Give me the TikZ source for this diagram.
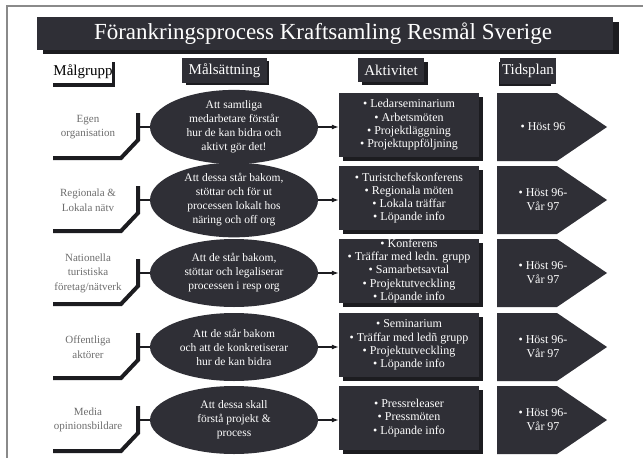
\documentclass[tikz,border=0pt]{standalone}
\usepackage{fontspec}
\setmainfont{Liberation Serif}
\usetikzlibrary{arrows.meta,shapes.geometric}
\definecolor{boxc}{HTML}{2F2F36}
\definecolor{shadc}{HTML}{1C1C20}
\definecolor{labc}{HTML}{6E6E6E}
\definecolor{framec}{HTML}{8A8A8A}
\newcommand\mrow[6]{%
  \node[lab] (l#2) at (88,#1) {#3};
  \draw[bracket] (138,#1-14) -- (138,#1+13) -- (121,#1+31) -- (53,#1+31);
  \node[goal] (g#2) at (234,#1) {#4};
  \coordinate (b#2) at (138,#1);
  \draw[stub] (b#2) -- (g#2.west);
  \fill[shadc] (343,#1-30) rectangle (483,#1+34);
  \node[act] (a#2) at (409,#1-2) {#5};
  \draw[conn] (g#2.east) -- (g#2.east -| a#2.west);
  \fill[boxc] (497,#1-34) -- (557,#1-34) -- (607,#1) -- (557,#1+34) -- (497,#1+34) -- cycle;
  \node[tidtxt] (t#2) at (543,#1) {#6};
}
\begin{document}
\begin{tikzpicture}[x=1pt,y=-1pt,
  dark/.style={fill=boxc,draw=none,text=white,inner sep=0pt},
  goal/.style={ellipse,fill=boxc,text=white,minimum width=168pt,minimum height=68pt,inner sep=0pt,align=center,font=\fontsize{11.5}{14}\selectfont},
  act/.style={dark,minimum width=140pt,minimum height=64pt,align=center,font=\fontsize{12}{13.3}\selectfont},
  lab/.style={text=labc,align=center,font=\fontsize{11}{14.5}\selectfont},
  tidtxt/.style={text=white,align=center,font=\fontsize{12}{14}\selectfont},
  hdr/.style={font=\fontsize{15}{17}\selectfont,inner sep=0pt},
  bracket/.style={draw=shadc,line width=4pt},
  stub/.style={draw=shadc,line width=2pt},
  conn/.style={draw=shadc,line width=1.2pt,-{Latex[length=7pt,width=5pt]}},
]
\useasboundingbox (0,0) rectangle (643,458);
\fill[white] (0,0) rectangle (643,458);
\draw[framec,line width=1.2pt] (7,458) -- (7,6) -- (643,6);
% title
\fill[shadc] (43,22) rectangle (619,54);
\fill[boxc] (37,17) rectangle (613,50);
\node[text=white,font=\fontsize{23}{25}\selectfont] (title) at (323,34) {Förankringsprocess Kraftsamling Resmål Sverige};
% headers
\node[hdr,minimum width=59pt,minimum height=24pt] (hm) at (83,72) {Målgrupp};
\fill[shadc] (112,62) rectangle (115,87);
\fill[shadc] (53,83) rectangle (115,87);
\fill[shadc] (186,61) rectangle (269,85);
\node[dark,hdr,minimum width=85pt,minimum height=25pt] (hs) at (224.5,70.5) {Målsättning};
\fill[shadc] (362,62) rectangle (428,85);
\node[dark,hdr,minimum width=66pt,minimum height=24pt] (ha) at (391,70) {Aktivitet};
\fill[shadc] (499,62) rectangle (551,86);
\node[dark,hdr,minimum width=56pt,minimum height=26pt] (ht) at (528,71) {Tidsplan};
% rows
\mrow{127}{1}{Egen\\organisation}{Att samtliga\\medarbetare förstår\\hur de kan bidra och\\aktivt gör det!}{• Ledarseminarium\\• Arbetsmöten\\• Projektläggning\\• Projektuppföljning}{• Höst 96}
\mrow{200}{2}{Regionala \&\\Lokala nätv}{Att dessa står bakom,\\stöttar och för ut\\processen lokalt hos\\näring och off org}{• Turistchefskonferens\\• Regionala möten\\• Lokala träffar\\• Löpande info}{• Höst 96-\\Vår 97}
\mrow{273}{3}{Nationella\\turistiska\\företag/nätverk}{Att de står bakom,\\stöttar och legaliserar\\processen i resp org}{• Konferens\\• Träffar med ledn. grupp\\• Samarbetsavtal\\• Projektutveckling\\• Löpande info}{• Höst 96-\\Vår 97}
\mrow{347}{4}{Offentliga\\aktörer}{Att de står bakom\\och att de konkretiserar\\hur de kan bidra}{• Seminarium\\• Träffar med ledñ grupp\\• Projektutveckling\\• Löpande info}{• Höst 96-\\Vår 97}
\mrow{420}{5}{Media\\opinionsbildare}{Att dessa skall\\förstå projekt \&\\process}{• Pressreleaser\\• Pressmöten\\• Löpande info}{• Höst 96-\\Vår 97}
\end{tikzpicture}
\end{document}
